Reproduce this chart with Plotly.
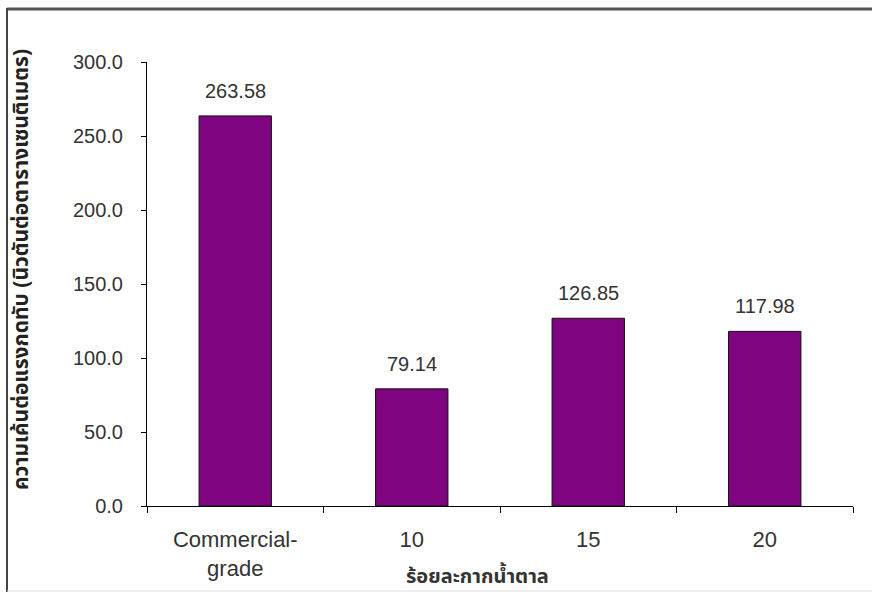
import plotly.graph_objects as go

# Compressive strength by molasses content
categories = ["Commercial-<br>grade", "10", "15", "20"]
strength = [263.58, 79.14, 126.85, 117.98]
value_labels = ["263.58", "79.14", "126.85", "117.98"]
y_ticks = [0, 50, 100, 150, 200, 250, 300]

x_title = "ร้อยละกากน้ำตาล"
y_title = "ความเค้นต่อแรงกดทับ (นิวตันต่อตารางเซนติเมตร)"

FONT = "Liberation Sans, Arial, sans-serif"
THAI_FONT = "Noto Sans Thai, Noto Sans, Liberation Sans, sans-serif"

W, H = 872, 595
L, R, T, B = 147, 19, 62, 89
PW, PH = W - L - R, H - T - B


def px_x(p):
    return (p - L) / PW


def px_y(p):
    return (H - B - p) / PH


fig = go.Figure()
fig.add_trace(go.Bar(
    x=categories,
    y=strength,
    marker=dict(color="#7f0580", line=dict(color="#1a0a1a", width=1)),
    width=0.41,
    hoverinfo="skip",
))

# value labels above each bar (category axis: position by index)
for i, (v, t) in enumerate(zip(strength, value_labels)):
    fig.add_annotation(
        x=i, y=v, text=t, showarrow=False, yanchor="bottom", yshift=12,
        font=dict(family=FONT, size=20, color="#333333"),
    )

# axis titles
fig.add_annotation(
    xref="paper", yref="paper", x=px_x(477), y=px_y(577), text="<b>" + x_title + "</b>",
    showarrow=False, xanchor="center", yanchor="middle",
    font=dict(family=THAI_FONT, size=20, color="#333333"),
)
fig.add_annotation(
    xref="paper", yref="paper", x=px_x(21), y=px_y(270), text="<b>" + y_title + "</b>",
    showarrow=False, textangle=-90, xanchor="center", yanchor="middle",
    font=dict(family=THAI_FONT, size=21, color="#222222"),
)

# outer frame
fig.add_shape(type="line", xref="paper", yref="paper",
              x0=px_x(7), x1=px_x(880), y0=px_y(9), y1=px_y(9),
              line=dict(color="#555555", width=3))
fig.add_shape(type="line", xref="paper", yref="paper",
              x0=px_x(7), x1=px_x(7), y0=px_y(8), y1=px_y(592),
              line=dict(color="#444444", width=2))
fig.add_shape(type="line", xref="paper", yref="paper",
              x0=px_x(7), x1=px_x(880), y0=px_y(591), y1=px_y(591),
              line=dict(color="#dddddd", width=1))

fig.update_layout(
    width=W, height=H,
    margin=dict(l=L, r=R, t=T, b=B, pad=0),
    paper_bgcolor="white", plot_bgcolor="white",
    showlegend=False,
    font=dict(family=FONT, color="#333333"),
    xaxis=dict(
        type="category", range=[-0.5, 3.5],
        showline=True, linecolor="black", linewidth=1,
        ticks="outside", tickson="boundaries", ticklen=6, tickcolor="black",
        showgrid=False, zeroline=False,
        tickfont=dict(family=FONT, size=22, color="#333333"),
        ticklabelstandoff=14,
    ),
    yaxis=dict(
        range=[0, 300], tickvals=y_ticks, tickformat=".1f",
        showline=True, linecolor="black", linewidth=1,
        ticks="outside", ticklen=5, tickcolor="black",
        showgrid=False, zeroline=False,
        tickfont=dict(family=FONT, size=20, color="#333333"),
        ticklabelstandoff=14,
    ),
)

fig.write_html("out.html")
